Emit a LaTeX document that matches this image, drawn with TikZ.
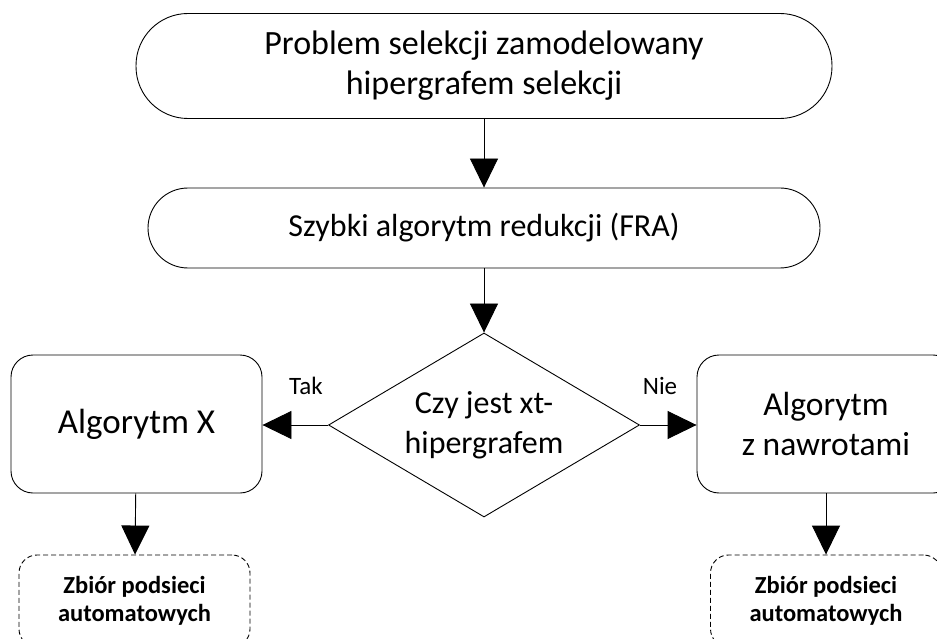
\documentclass[tikz,border=0pt]{standalone}
\usepackage{fontspec}
\setmainfont{Carlito}
\usetikzlibrary{arrows.meta,shapes.geometric}

\tikzset{
  base/.style={draw, line width=0.9pt, align=center, inner sep=0pt,
    font=\fontsize{32}{40}\selectfont},
  pill/.style={base, rectangle},
  procbox/.style={base, rectangle, rounded corners=22pt},
  resultbox/.style={draw, line width=0.9pt, dashed, dash pattern=on 5pt off 3pt,
    rectangle, rounded corners=18pt, align=center, inner sep=0pt,
    font=\fontsize{24.5}{28}\selectfont\bfseries},
  decision/.style={base, diamond, aspect=1.69},
  flow/.style={line width=0.9pt, -{Triangle[length=29pt,width=28pt]}},
  edgelabel/.style={font=\fontsize{25}{30}\selectfont, inner sep=0pt}
}

\begin{document}
\begin{tikzpicture}[x=1pt,y=-1pt]
  \useasboundingbox (0,0) rectangle (937,639);
  \clip (0,0) rectangle (937,639);

  \node[pill, rounded corners=52pt, minimum width=696pt, minimum height=105pt,
    font=\fontsize{34}{40}\selectfont]
    (start) at (484,66) {Problem selekcji zamodelowany\\hipergrafem selekcji};
  \node[pill, rounded corners=40pt, minimum width=672pt, minimum height=80pt]
    (fra) at (484,228) {Szybki algorytm redukcji (FRA)};
  \node[decision, minimum width=311pt, minimum height=184pt]
    (test) at (484,425) {Czy jest xt-\\hipergrafem};
  \node[procbox, minimum width=251pt, minimum height=138pt,
    font=\fontsize{35}{40}\selectfont]
    (algx) at (136.5,424) {Algorytm X};
  \node[procbox, minimum width=258pt, minimum height=138pt,
    font=\fontsize{33.5}{40}\selectfont]
    (back) at (826,424) {Algorytm\\z nawrotami};
  \node[resultbox, minimum width=231pt, minimum height=92pt]
    (resl) at (134.5,601) {Zbiór podsieci\\automatowych};
  \node[resultbox, minimum width=231pt, minimum height=92pt]
    (resr) at (826,601) {Zbiór podsieci\\automatowych};

  \draw[flow] (start) -- (fra);
  \draw[flow] (fra) -- (test);
  \draw[flow] (test.west) -- (algx.east |- test.west);
  \draw[flow] (test.east) -- (back.west |- test.east);
  \draw[flow] (algx) -- (resl);
  \draw[flow] (back) -- (resr);

  \node[edgelabel] (tak) at (306,386) {Tak};
  \node[edgelabel] (nie) at (660,386) {Nie};
\end{tikzpicture}
\end{document}
